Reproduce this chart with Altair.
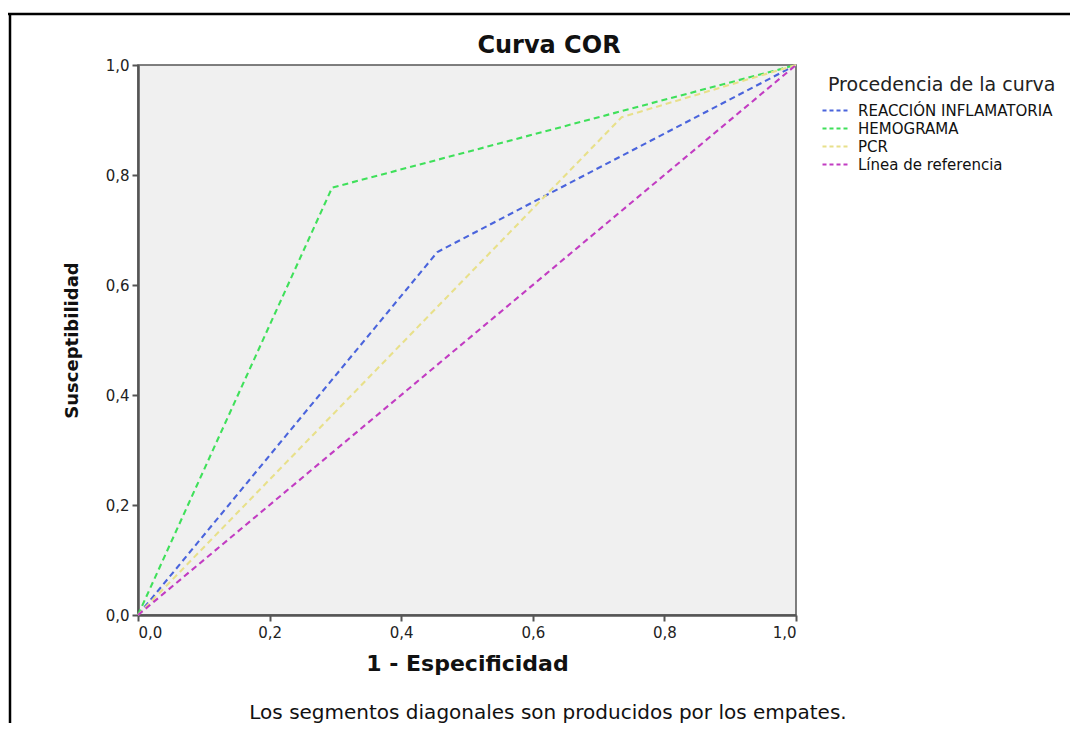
import altair as alt
import pandas as pd

series_names = ["REACCIÓN INFLAMATORIA", "HEMOGRAMA", "PCR", "Línea de referencia"]
series_colors = ["#4a64dc", "#3fe05a", "#e8e08a", "#c23cc2"]

reaccion_x = [0.0, 0.455, 1.0]
reaccion_y = [0.0, 0.660, 1.0]
hemograma_x = [0.0, 0.295, 1.0]
hemograma_y = [0.0, 0.777, 1.0]
pcr_x = [0.0, 0.735, 1.0]
pcr_y = [0.0, 0.905, 1.0]
ref_x = [0.0, 1.0]
ref_y = [0.0, 1.0]

ticks = [0.0, 0.2, 0.4, 0.6, 0.8, 1.0]

rows = []
for name, xs, ys in [
    (series_names[0], reaccion_x, reaccion_y),
    (series_names[1], hemograma_x, hemograma_y),
    (series_names[2], pcr_x, pcr_y),
    (series_names[3], ref_x, ref_y),
]:
    for i, (a, b) in enumerate(zip(xs, ys)):
        rows.append({"serie": name, "x": a, "y": b, "o": i})
df = pd.DataFrame(rows)

W, H = 658, 550
FONT = "DejaVu Sans"
lab = "replace(format(datum.value, '.1f'), '.', ',')"

lines = alt.Chart(df).mark_line(strokeDash=[6, 4], strokeWidth=2.1).encode(
    x=alt.X("x:Q", scale=alt.Scale(domain=[0, 1], nice=False),
            axis=alt.Axis(values=ticks, labelExpr=lab, title="1 - Especificidad",
                          labelFontSize=15, labelFont=FONT, labelPadding=4,
                          titleFontSize=22, titleFont=FONT, titleFontWeight="bold",
                          titlePadding=13, titleColor="#111")),
    y=alt.Y("y:Q", scale=alt.Scale(domain=[0, 1], nice=False),
            axis=alt.Axis(values=ticks, labelExpr=lab, title="Susceptibilidad",
                          labelFontSize=15, labelFont=FONT, labelPadding=3,
                          titleFontSize=18, titleFont=FONT, titleFontWeight="bold",
                          titlePadding=24, titleColor="#111")),
    color=alt.Color("serie:N", scale=alt.Scale(domain=series_names, range=series_colors),
                    legend=alt.Legend(title="Procedencia de la curva", orient="none",
                                      legendX=690, legendY=11, titleAnchor="start",
                                      titleFontSize=19, titleFont=FONT, titleFontWeight="normal",
                                      titleColor="#222", titlePadding=7, titleLimit=500,
                                      labelFontSize=15, labelFont=FONT, labelColor="#111",
                                      labelOffset=13,
                                      symbolType="M-2,0L2,0", symbolDash=[4, 3],
                                      symbolStrokeWidth=2.2, symbolSize=196,
                                      rowPadding=1, labelLimit=400)),
    order="o:Q",
    detail="serie:N",
)

frame_top = alt.Chart(pd.DataFrame({"a": [0]})).mark_rule(color="#000", strokeWidth=2.5).encode(
    x=alt.value(-130), x2=alt.value(W + 280), y=alt.value(-51))
frame_left = alt.Chart(pd.DataFrame({"a": [0]})).mark_rule(color="#000", strokeWidth=2.5).encode(
    x=alt.value(-128), y=alt.value(-52), y2=alt.value(H + 120))

title = alt.Chart(pd.DataFrame({"t": ["Curva COR"]})).mark_text(
    fontSize=24, font=FONT, fontWeight="bold", color="#111", align="center", baseline="middle").encode(
    text="t:N", x=alt.value(411), y=alt.value(-19))

foot = alt.Chart(pd.DataFrame({"t": ["Los segmentos diagonales son producidos por los empates."]})).mark_text(
    fontSize=20, font=FONT, color="#111", align="center", baseline="middle").encode(
    text="t:N", x=alt.value(410), y=alt.value(H + 98))

chart = alt.layer(lines, frame_top, frame_left, title, foot).properties(
    width=W, height=H,
    autosize=alt.AutoSizeParams(type="none"),
    padding={"left": 130, "top": 57, "right": 274, "bottom": 108},
    background="white",
).configure_view(
    fill="#f0f0f0", stroke="#555", strokeWidth=1.5
).configure_axis(
    grid=False, domainColor="#555", domainWidth=2.5, tickColor="#555", tickWidth=2,
    tickSize=6, labelColor="#222",
)

chart.save("out.html", embed_options={"renderer": "svg", "actions": False})
